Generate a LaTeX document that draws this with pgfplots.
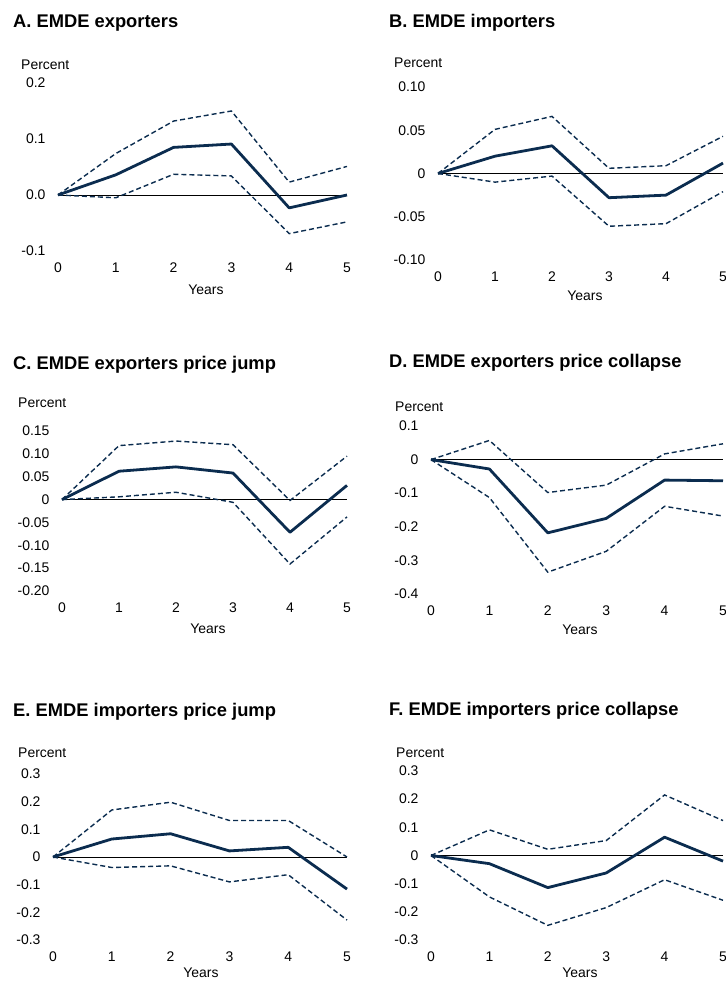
\documentclass[border=0pt]{standalone}
\usepackage{pgfplots}
\pgfplotsset{compat=1.18}
\usepackage{fontspec}
\setmainfont{Liberation Sans}
\definecolor{navy}{HTML}{0B2C4F}
\newcommand{\lab}{\fontsize{14}{16}\selectfont}
\newcommand{\ttl}{\fontsize{18.4}{21}\selectfont\bfseries}
\pgfplotsset{
  panel/.style={scale only axis, anchor=south west, xmin=0, xmax=5,
    axis line style={draw=none}, major tick length=0, xtick={0,1,2,3,4,5},
    xticklabels={0,1,2,3,4,5},
    tick label style={font=\lab}, xticklabel style={yshift=-8bp},
    yticklabel style={xshift=-9bp}, clip=false},
  zero/.style={black, line width=0.9bp},
  band/.style={navy, line width=1.4bp, dash pattern=on 5bp off 3bp},
  mid/.style={navy, line width=2.8bp, line join=round},
}
\begin{document}
\begin{tikzpicture}
\path[use as bounding box, clip] (0,0) rectangle (726bp,982bp);
% ---------- A
\begin{axis}[panel, at={(58bp,731bp)}, width=289bp, height=168bp,
  ymin=-0.1, ymax=0.2, ytick={-0.1,0,0.1,0.2}, yticklabels={-0.1,0.0,0.1,0.2}]
\addplot[zero] coordinates {(0,0)(5,0)};
\addplot[band] coordinates {(0,0)(1,0.074)(2,0.132)(3,0.150)(4,0.023)(5,0.051)};
\addplot[band] coordinates {(0,0)(1,-0.005)(2,0.037)(3,0.034)(4,-0.069)(5,-0.048)};
\addplot[mid] coordinates {(0,0)(1,0.036)(2,0.085)(3,0.091)(4,-0.023)(5,0.0)};
\end{axis}
% ---------- B
\begin{axis}[panel, at={(438bp,722bp)}, width=285bp, height=173bp,
  ymin=-0.1, ymax=0.1, ytick={-0.1,-0.05,0,0.05,0.1}, yticklabels={-0.10,-0.05,0,0.05,0.10}]
\addplot[zero] coordinates {(0,0)(5,0)};
\addplot[band] coordinates {(0,0)(1,0.051)(2,0.066)(3,0.006)(4,0.009)(5,0.043)};
\addplot[band] coordinates {(0,0)(1,-0.010)(2,-0.003)(3,-0.061)(4,-0.058)(5,-0.021)};
\addplot[mid] coordinates {(0,0)(1,0.020)(2,0.032)(3,-0.028)(4,-0.025)(5,0.012)};
\end{axis}
% ---------- C
\begin{axis}[panel, at={(62bp,391bp)}, width=285bp, height=160bp,
  ymin=-0.2, ymax=0.15, ytick={-0.2,-0.15,-0.1,-0.05,0,0.05,0.1,0.15},
  yticklabels={-0.20,-0.15,-0.10,-0.05,0,0.05,0.10,0.15}]
\addplot[zero] coordinates {(0,0)(5,0)};
\addplot[band] coordinates {(0,0)(1,0.118)(2,0.128)(3,0.120)(4,-0.002)(5,0.095)};
\addplot[band] coordinates {(0,0)(1,0.006)(2,0.016)(3,-0.006)(4,-0.141)(5,-0.038)};
\addplot[mid] coordinates {(0,0)(1,0.062)(2,0.0715)(3,0.058)(4,-0.0715)(5,0.031)};
\end{axis}
% ---------- D
\begin{axis}[panel, at={(431bp,388bp)}, width=292bp, height=168bp,
  ymin=-0.4, ymax=0.1, ytick={-0.4,-0.3,-0.2,-0.1,0,0.1}, yticklabels={-0.4,-0.3,-0.2,-0.1,0,0.1}]
\addplot[zero] coordinates {(0,0)(5,0)};
\addplot[band] coordinates {(0,0)(1,0.057)(2,-0.098)(3,-0.076)(4,0.017)(5,0.047)};
\addplot[band] coordinates {(0,0)(1,-0.113)(2,-0.335)(3,-0.273)(4,-0.139)(5,-0.168)};
\addplot[mid] coordinates {(0,0)(1,-0.028)(2,-0.218)(3,-0.175)(4,-0.061)(5,-0.063)};
\end{axis}
% ---------- E
\begin{axis}[panel, at={(53bp,42bp)}, width=294bp, height=166bp,
  ymin=-0.3, ymax=0.3, ytick={-0.3,-0.2,-0.1,0,0.1,0.2,0.3}, yticklabels={-0.3,-0.2,-0.1,0,0.1,0.2,0.3}]
\addplot[zero] coordinates {(0,0)(5,0)};
\addplot[band] coordinates {(0,0)(1,0.170)(2,0.198)(3,0.132)(4,0.132)(5,0.0)};
\addplot[band] coordinates {(0,0)(1,-0.038)(2,-0.032)(3,-0.090)(4,-0.064)(5,-0.228)};
\addplot[mid] coordinates {(0,0)(1,0.065)(2,0.084)(3,0.022)(4,0.035)(5,-0.116)};
\end{axis}
% ---------- F
\begin{axis}[panel, at={(431bp,42bp)}, width=292bp, height=169bp,
  ymin=-0.3, ymax=0.3, ytick={-0.3,-0.2,-0.1,0,0.1,0.2,0.3}, yticklabels={-0.3,-0.2,-0.1,0,0.1,0.2,0.3}]
\addplot[zero] coordinates {(0,0)(5,0)};
\addplot[band] coordinates {(0,0)(1,0.091)(2,0.022)(3,0.053)(4,0.215)(5,0.124)};
\addplot[band] coordinates {(0,0)(1,-0.147)(2,-0.248)(3,-0.185)(4,-0.086)(5,-0.159)};
\addplot[mid] coordinates {(0,0)(1,-0.029)(2,-0.114)(3,-0.062)(4,0.065)(5,-0.020)};
\end{axis}
% ---------- texts
\node[anchor=west, inner sep=0, font=\ttl] at (13bp,959bp) {A. EMDE exporters};
\node[anchor=west, inner sep=0, font=\ttl] at (389bp,959bp) {B. EMDE importers};
\node[anchor=west, inner sep=0, font=\ttl] at (13bp,617bp) {C. EMDE exporters price jump};
\node[anchor=west, inner sep=0, font=\ttl] at (389bp,619bp) {D. EMDE exporters price collapse};
\node[anchor=west, inner sep=0, font=\ttl] at (13bp,270bp) {E. EMDE importers price jump};
\node[anchor=west, inner sep=0, font=\ttl] at (389bp,271bp) {F. EMDE importers price collapse};
\node[anchor=west, inner sep=0, font=\lab] at (21bp,917bp) {Percent};
\node[anchor=west, inner sep=0, font=\lab] at (394bp,919bp) {Percent};
\node[anchor=west, inner sep=0, font=\lab] at (18bp,579bp) {Percent};
\node[anchor=west, inner sep=0, font=\lab] at (395bp,575bp) {Percent};
\node[anchor=west, inner sep=0, font=\lab] at (18bp,229bp) {Percent};
\node[anchor=west, inner sep=0, font=\lab] at (396bp,229bp) {Percent};
\node[inner sep=0, font=\lab] at (206bp,692bp) {Years};
\node[inner sep=0, font=\lab] at (585bp,686bp) {Years};
\node[inner sep=0, font=\lab] at (208bp,353bp) {Years};
\node[inner sep=0, font=\lab] at (580bp,352bp) {Years};
\node[inner sep=0, font=\lab] at (201bp,9bp) {Years};
\node[inner sep=0, font=\lab] at (580bp,9bp) {Years};
\end{tikzpicture}
\end{document}
